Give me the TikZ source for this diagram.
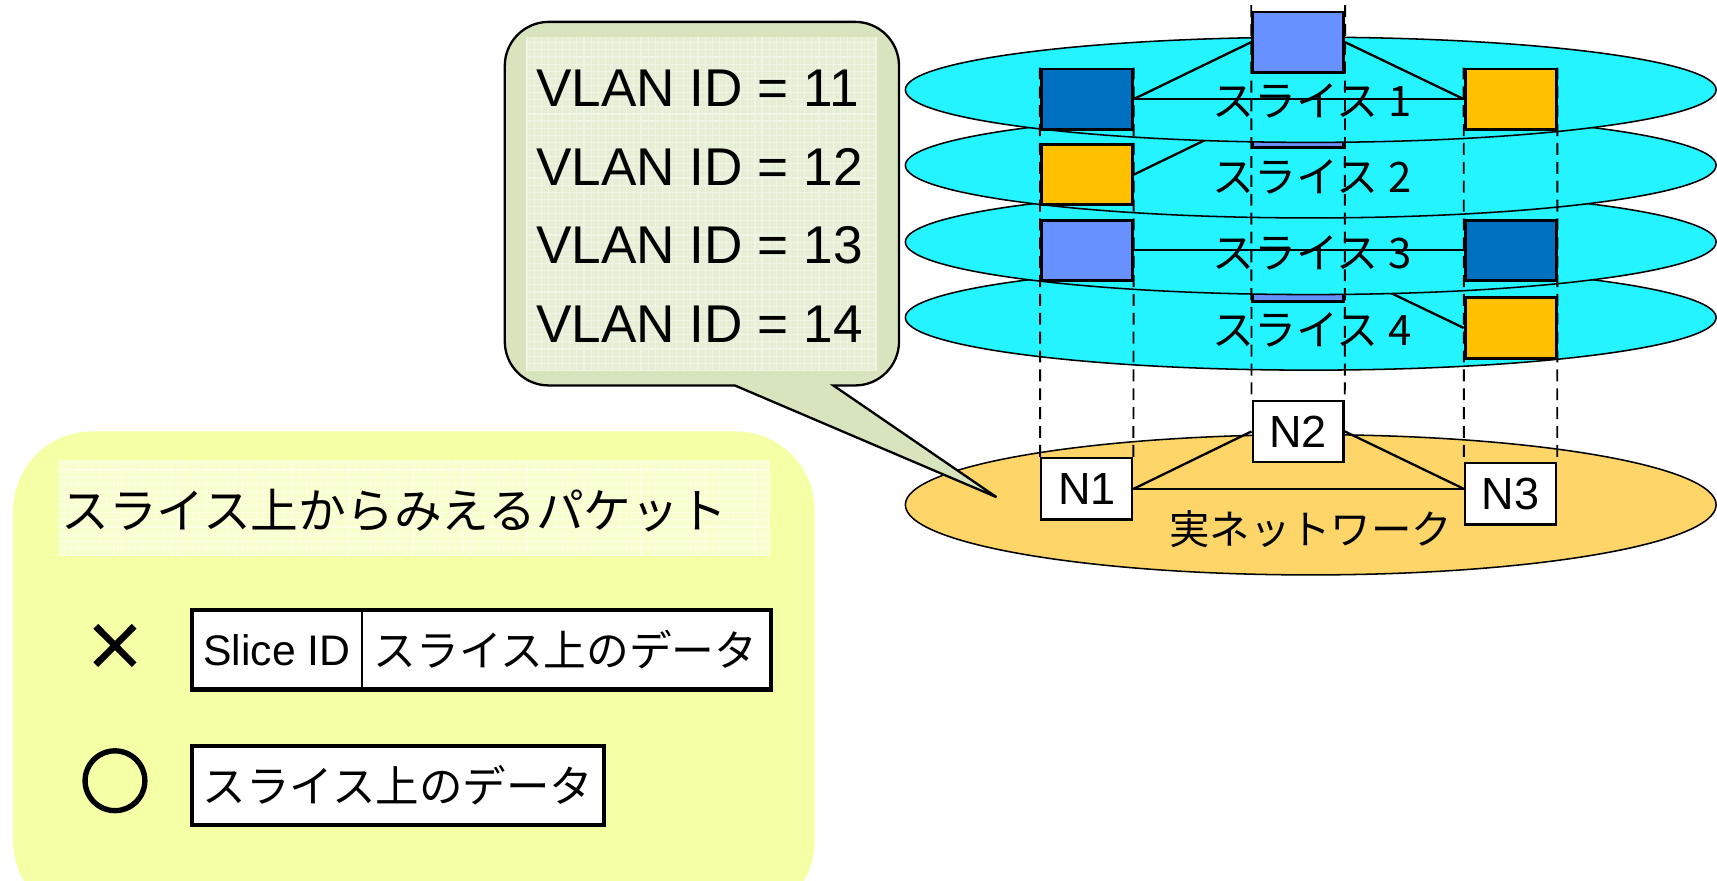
\documentclass[tikz,border=0pt]{standalone}
\usepackage{fontspec}
\setmainfont{Liberation Sans}
\newfontfamily\jp{Noto Sans CJK JP}
\newfontfamily\jpheavy{Noto Sans CJK JP}[FakeBold=4]
\usetikzlibrary{calc}
\definecolor{slicecyan}{HTML}{24F4FF}
\definecolor{darkblu}{HTML}{0070C0}
\definecolor{lightblu}{HTML}{6691FF}
\definecolor{orng}{HTML}{FFC000}
\definecolor{netorange}{HTML}{FDD568}
\definecolor{panelyellow}{HTML}{F5FFA6}
\definecolor{panelhead}{HTML}{F7FFCC}
\definecolor{panelgrid}{HTML}{FBFFE4}
\definecolor{callgreen}{HTML}{D7E4BD}
\definecolor{callinner}{HTML}{E6EED6}
\definecolor{callgrid}{HTML}{EFF4E4}
\tikzset{
  ring/.style={draw=black, line width=0.4pt},
  blk/.style={draw=black, line width=0.75pt, minimum width=0.83cm, minimum height=0.55cm, inner sep=0pt},
  nbox/.style={draw=black, line width=0.6pt, fill=white, minimum width=0.83cm, minimum height=0.56cm, inner sep=0pt, font=\fontsize{11.7pt}{13pt}\selectfont},
  link/.style={draw=black, line width=0.6pt},
  guide/.style={draw=black, line width=0.5pt, dash pattern=on 3.1pt off 1.8pt},
  slicelbl/.style={font=\jp\fontsize{10.9pt}{12pt}\selectfont, inner sep=0pt},
  vlan/.style={anchor=base west, inner sep=0pt, font=\fontsize{13.8pt}{15pt}\selectfont},
  pkt/.style={fill=white, minimum height=0.71cm, inner sep=0pt},
  pktframe/.style={draw=black, line width=1.1pt},
}
\begin{document}
\begin{tikzpicture}[x=0.01cm, y=-0.01cm]
\useasboundingbox (0,0) rectangle (1568,804);
\clip (0,0) rectangle (1568,804);

% ---------- bottom-left panel ----------
\fill[panelyellow, rounded corners=0.72cm] (12,394) rectangle (744,840);
\fill[panelhead] (53,420) rectangle (703,508);
\draw[panelgrid, line width=0.3pt, xstep=0.065cm, ystep=0.065cm] (53,420) grid (703,508);
\node[font=\jp\fontsize{12.4pt}{14pt}\selectfont, inner sep=0pt] (title) at (360,466) {スライス上からみえるパケット};

\node[font=\jpheavy\fontsize{16pt}{18pt}\selectfont, inner sep=0pt] (ng) at (105,591) {×};
\node[font=\jpheavy\fontsize{18pt}{20pt}\selectfont, inner sep=0pt] (ok) at (105,713) {○};

\node[pkt, minimum width=1.54cm, font=\fontsize{11.1pt}{13pt}\selectfont] (sid) at (253,593.5) {Slice ID};
\node[pkt, minimum width=3.73cm, font=\jp\fontsize{11.1pt}{13pt}\selectfont] (data1) at (516.5,593.5) {スライス上のデータ};
\draw[pktframe] (sid.north west) rectangle (data1.south east);
\draw[line width=0.45pt] (sid.north east) -- (sid.south east);

\node[pkt, minimum width=3.75cm, font=\jp\fontsize{11.3pt}{13pt}\selectfont] (data2) at (363.5,717.5) {スライス上のデータ};
\draw[pktframe] (data2.north west) rectangle (data2.south east);

% ---------- real network ----------
\draw[ring, fill=netorange] (1197,461) ellipse [x radius=3.70cm, y radius=0.64cm];
\node[nbox] (N1) at (992.5,446.5) {N1};
\node[nbox] (N2) at (1185.5,394) {N2};
\node[nbox] (N3) at (1379.5,451) {N3};
\draw[link] (N1.east) -- (N2.west);
\draw[link] (N2.east) -- (N1.east -| N3.west);
\draw[link] (N1.east) -- (N1.east -| N3.west);
\node[font=\jp\fontsize{10.5pt}{12pt}\selectfont, inner sep=0pt] (real) at (1197,483) {実ネットワーク};

% ---------- slice 4 ----------
\draw[ring, fill=slicecyan] (1197,290) ellipse [x radius=3.70cm, y radius=0.48cm];
\node[blk, fill=lightblu] (B4) at (1185.5,247.5) {};
\node[blk, fill=orng] (C4) at (1379.5,299.5) {};
\draw[link] (B4.east) -- (C4.west);
\node[slicelbl] (L4) at (1198,301) {スライス 4};

% ---------- slice 3 ----------
\draw[ring, fill=slicecyan] (1197,221) ellipse [x radius=3.70cm, y radius=0.48cm];
\node[blk, fill=lightblu] (A3) at (992.5,228.5) {};
\node[blk, fill=darkblu] (C3) at (1379.5,228.5) {};
\node[slicelbl] (L3) at (1198,231) {スライス 3};
\draw[link] (A3.east) -- (C3.west);

% ---------- slice 2 ----------
\draw[ring, fill=slicecyan] (1197,151) ellipse [x radius=3.70cm, y radius=0.48cm];
\node[blk, fill=orng] (A2) at (992.5,159.5) {};
\node[blk, fill=lightblu] (B2) at (1185.5,107.5) {};
\draw[link] (A2.east) -- (B2.west);
\node[slicelbl] (L2) at (1198,162) {スライス 2};

% ---------- slice 1 ----------
\draw[ring, fill=slicecyan] (1197,82) ellipse [x radius=3.70cm, y radius=0.48cm];
\node[blk, fill=darkblu] (A1) at (992.5,90.5) {};
\node[blk, fill=lightblu] (B1) at (1185.5,38.5) {};
\node[blk, fill=orng] (C1) at (1379.5,90.5) {};
\node[slicelbl] (L1) at (1198,92) {スライス 1};
\draw[link] (A1.east) -- (B1.west);
\draw[link] (B1.east) -- (C1.west);
\draw[link] (A1.east) -- (C1.west);

% ---------- vertical guides ----------
\draw[guide] (A1.north west) -- (N1.north west);
\draw[guide] (A1.north east) -- (N1.north east);
\draw[guide] ($(B1.north west)+(0,-5)$) -- (N2.north west);
\draw[guide] ($(B1.north east)+(0,-5)$) -- (N2.north east);
\draw[guide] (C1.north west) -- (N3.north west);
\draw[guide] (C1.north east) -- (N3.north east);

% ---------- callout ----------
\coordinate (tip) at (910,454);
\draw[fill=callgreen, line width=0.6pt]
  (671,352) -- (501,352) .. controls (479,352) and (461,334) .. (461,312)
  -- (461,60) .. controls (461,38) and (479,20) .. (501,20)
  -- (781,20) .. controls (803,20) and (821,38) .. (821,60)
  -- (821,312) .. controls (821,334) and (803,352) .. (781,352)
  -- (761,352) -- (tip) -- cycle;
\fill[callinner] (481,34) rectangle (801,339);
\draw[callgrid, line width=0.3pt, xstep=0.065cm, ystep=0.065cm] (481,34) grid (801,339);
\node[vlan] (v11) at (489,97.5) {VLAN ID = 11};
\node[vlan] (v12) at (489,169) {VLAN ID = 12};
\node[vlan] (v13) at (489,241) {VLAN ID = 13};
\node[vlan] (v14) at (489,313) {VLAN ID = 14};
\end{tikzpicture}
\end{document}
